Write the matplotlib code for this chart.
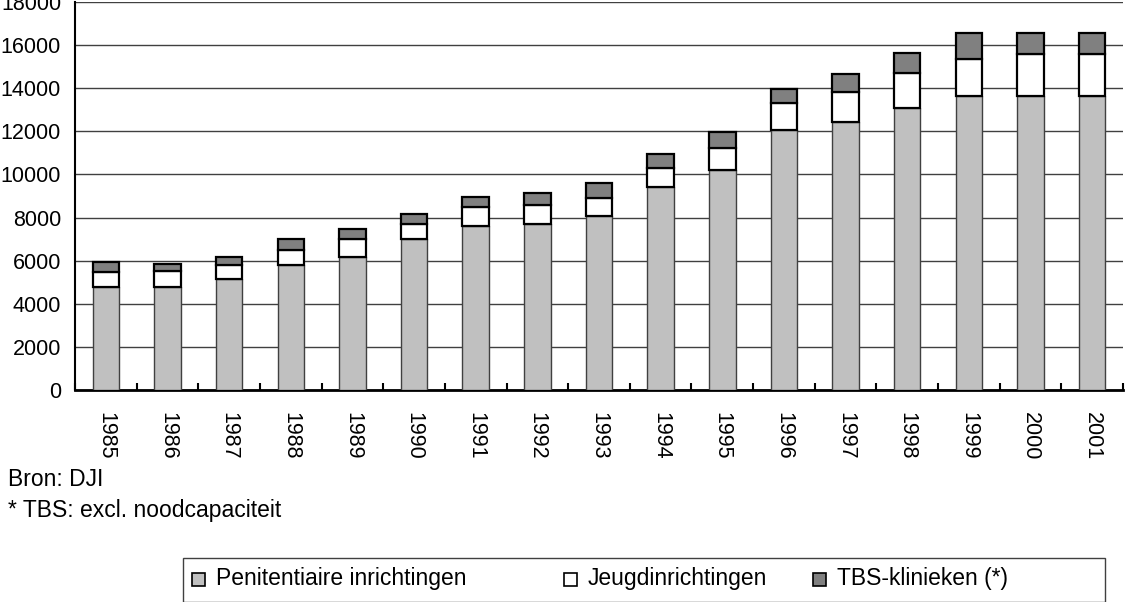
import numpy as np
import matplotlib.pyplot as plt
from matplotlib.patches import Rectangle

plt.rcParams['font.family'] = ['Liberation Sans', 'DejaVu Sans']

years = ['1985', '1986', '1987', '1988', '1989', '1990', '1991', '1992', '1993',
         '1994', '1995', '1996', '1997', '1998', '1999', '2000', '2001']
penitentiair = [4790, 4790, 5170, 5800, 6170, 7020, 7600, 7700, 8060,
                9400, 10210, 12050, 12450, 13090, 13640, 13640, 13640]
jeugd = [670, 750, 630, 700, 820, 680, 890, 870, 870,
         880, 1040, 1260, 1390, 1630, 1700, 1930, 1930]
tbs = [490, 310, 390, 490, 460, 470, 450, 550, 660,
       670, 710, 660, 830, 910, 1200, 970, 970]

labels = ['Penitentiaire inrichtingen', 'Jeugdinrichtingen', 'TBS-klinieken (*)']
colors = ['#c0c0c0', '#ffffff', '#808080']

W, H = 1125, 602
fig = plt.figure(figsize=(W / 100, H / 100), dpi=100)
ax = fig.add_axes([75 / W, 1 - 390 / H, 1048 / W, 388 / H])

x = np.arange(len(years))
pen = np.array(penitentiair)
jg = np.array(jeugd)
tb = np.array(tbs)
bw = 0.43
ax.bar(x, pen, bw, color=colors[0], edgecolor='#404040', linewidth=1.0, zorder=3)
ax.bar(x, jg, bw, bottom=pen, color=colors[1], edgecolor='black', linewidth=1.6, zorder=3)
ax.bar(x, tb, bw, bottom=pen + jg, color=colors[2], edgecolor='black', linewidth=1.6, zorder=3)

ax.set_xlim(-0.5, len(years) - 0.5)
ax.set_ylim(0, 18000)
ax.set_yticks(np.arange(0, 18001, 2000))
ax.yaxis.grid(True, color='#404040', linewidth=1.0, zorder=0)
ax.tick_params(axis='y', length=0, pad=10, labelsize=15.5)

ax.set_xticks(x)
ax.set_xticklabels(years, rotation=270, fontsize=15.5)
ax.tick_params(axis='x', length=0, pad=16)
ax.set_xticks(np.arange(-0.5, len(years), 1.0), minor=True)
ax.tick_params(axis='x', which='minor', direction='in', length=5, width=1.5, color='black')

for s in ['top', 'right']:
    ax.spines[s].set_visible(False)
ax.spines['left'].set_linewidth(1.5)
ax.spines['bottom'].set_linewidth(2.0)

fig.text(8 / W, 1 - 480 / H, 'Bron: DJI', fontsize=16.5, va='center', ha='left')
fig.text(8 / W, 1 - 511 / H, '* TBS: excl. noodcapaciteit', fontsize=16.5, va='center', ha='left')

# legend box drawn in figure pixels
fig.patches.append(Rectangle((183 / W, 0), (1105 - 183) / W, 1 - 558 / H,
                             transform=fig.transFigure, facecolor='white',
                             edgecolor='#404040', linewidth=1.0))
leg_x = [192, 564, 813]
for lx, lab, col in zip(leg_x, labels, colors):
    fig.patches.append(Rectangle((lx / W, 1 - 586 / H), 13 / W, 13 / H,
                                 transform=fig.transFigure, facecolor=col,
                                 edgecolor='black', linewidth=1.2))
    fig.text((lx + 24) / W, 1 - 579 / H, lab, fontsize=16.5, va='center', ha='left')

fig.savefig('out.png', dpi=100)
